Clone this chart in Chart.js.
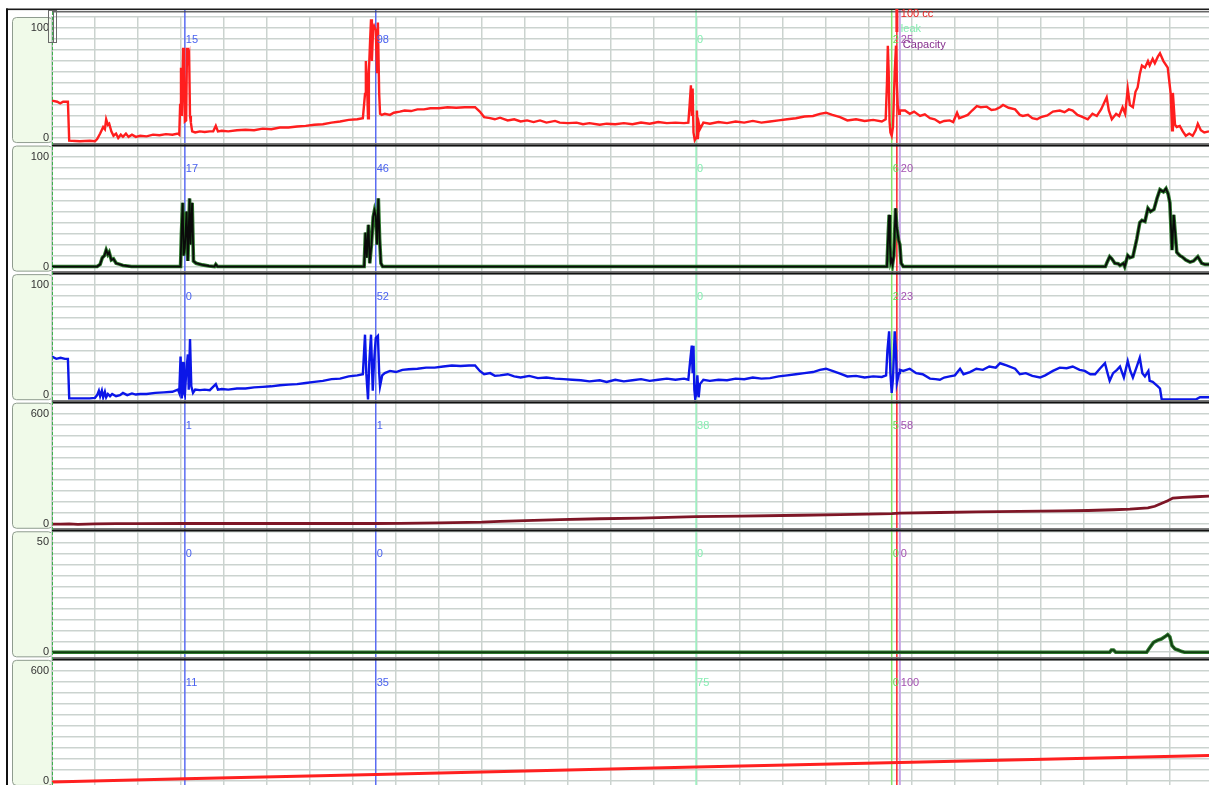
<!DOCTYPE html>
<html>
<head>
<meta charset="utf-8">
<title>Urodynamic trace</title>
<script src="https://cdn.jsdelivr.net/npm/chart.js@4.4.1/dist/chart.umd.min.js"></script>
<style>
  html, body { margin: 0; padding: 0; background: #fff; overflow: hidden; }
  #trace { display: block; }
</style>
</head>
<body>
<canvas id="trace" width="1209" height="797"></canvas>
<script>
// time in seconds (one grid column = 10 s), value per channel
const pves = [[0,34],[1.2,33],[1.9,31.5],[2.6,33],[3.7,33],[4.0,-2.5],[6.5,-3],[8.8,-2.5],[10.0,-3],[10.5,-1],[11.2,4],[11.9,10],[12.3,8],[12.6,17],[13.0,12],[13.3,13],[13.8,6],[14.3,2],[14.9,4],[15.4,0],[16.0,3],[16.5,1],[17.2,4],[17.8,1],[18.6,3],[19.5,1],[20.5,2],[22,1.5],[23.5,3],[25,2.5],[26.5,3.5],[28,3],[29.3,4],[29.6,3],[29.8,30],[30.0,64],[30.2,20],[30.5,82],[30.7,60],[30.9,15],[31.2,16],[31.4,82],[31.6,70],[31.9,75],[32.1,20],[32.3,14],[32.6,6],[33.3,5],[34.4,6],[35.5,5.5],[36.7,6],[37.5,6],[38.1,11],[38.6,6],[39.5,6.5],[41,6],[43,7],[45,7.5],[47,7],[49,8.5],[51,8],[53,9.5],[55,9.5],[57,10.5],[59,11],[61,12],[63,12.5],[65,14],[67,15],[69,16.5],[71,17],[72.3,18],[72.8,40],[73.0,70],[73.3,45],[73.5,18],[73.7,60],[74.0,90],[74.2,108],[74.4,70],[74.7,100],[74.9,102],[75.3,98],[75.6,60],[75.8,105],[76.1,40],[76.3,22],[76.7,21],[77.4,22],[78.6,21],[79.5,23],[80.9,24],[82,25],[83.5,24.5],[85,26],[86.5,26],[88,27],[90,27],[92,28],[94,27.5],[96,28],[98.4,28],[99.5,24],[100.5,19],[101.9,18],[103,17],[104.2,18.5],[106,16],[107.5,17],[109,15],[110.5,16],[112,14.5],[113.5,16],[115,14],[117,15.5],[118.1,14],[120,13.5],[122,14],[123.5,12.5],[125,13.5],[127.4,12],[129,13],[131,12.5],[133,13.5],[135,12.5],[137,14],[139,13],[141,14.5],[143,13.5],[145,14],[147,13.5],[148.0,14],[148.3,30],[148.6,48],[148.8,20],[149.0,45],[149.2,5],[149.5,-2],[149.8,0],[150.0,25],[150.2,-1],[150.5,12],[150.7,8],[151.5,14],[153,13],[155,14.5],[157,13.5],[159,15],[161,14],[163,15.5],[165,14],[167,15],[169,16],[171,17],[173,18],[175,19.5],[177,20],[178.6,22],[180,23],[181.5,21],[183.3,19],[185,16],[187,17],[189,15.5],[191,16.5],[193,15],[193.9,17],[194.2,50],[194.4,84],[194.6,60],[194.8,15],[195.0,5],[195.3,2],[195.6,10],[196.0,60],[196.3,84],[196.5,50],[196.7,30],[197.0,22],[197.2,25],[198.4,25],[199.5,22],[200.5,24],[201.9,20],[203,21.5],[204.2,18],[205.3,17],[206.5,14],[207.5,15.5],[208.8,16],[209.6,14.5],[210.5,23],[211,18],[212,19.5],[213,21],[214,25],[215.1,29],[216,28],[217.4,28.5],[218.5,25.5],[219.5,26],[220.5,28],[221.2,30],[222.5,27.5],[224,26],[225.1,21],[225.8,20],[227,21],[228,18],[229.1,17],[230,19],[231.5,20.5],[232.8,24],[234.4,25],[235.5,23.5],[236.5,26],[237.4,25],[238.5,21],[239.5,19.5],[240.9,17],[242,22],[243,20],[244,26],[245.3,37],[245.8,25],[246.5,17],[247.5,22],[248.2,20],[249,28],[249.6,22],[250.2,45],[250.7,30],[251.4,28],[252,42],[252.5,46],[253.0,58],[253.5,66],[254.2,64],[254.9,70],[255.3,66],[256,72],[256.5,68],[257.2,74],[257.7,77],[258.5,70],[259.5,64],[260.2,40],[260.5,7],[260.7,41],[261.2,12],[261.6,10],[262.3,11],[263,6],[263.7,2],[264.5,4],[265.3,2],[266,7],[266.5,13],[267.2,7],[268,5],[269.1,6]];

const pabd = [[0,0],[10.5,0],[11.2,2],[11.7,8],[12.2,10],[12.6,15],[13.0,11],[13.3,13],[13.8,6],[14.3,7],[14.9,3],[15.8,2],[16.5,1],[17.5,0.5],[18.5,0],[29.9,0],[30.1,30],[30.4,58],[30.6,10],[30.9,17],[31.3,50],[31.6,5],[32.0,62],[32.2,20],[32.6,58],[32.9,5],[33.5,3],[35,1.5],[36.5,0.5],[37.8,0],[38.1,2],[38.5,0],[72.6,0],[72.9,31],[73.2,8],[73.6,38],[73.9,3],[74.3,20],[74.7,45],[75.0,51],[75.3,46],[75.6,20],[75.9,62],[76.2,25],[76.5,3],[76.9,0],[194.2,0],[194.5,30],[194.7,47],[194.9,20],[195.1,4],[195.3,6],[195.5,2],[195.8,10],[196.2,53],[196.5,35],[196.9,24],[197.2,20],[197.5,3],[198.0,0],[245,0],[245.3,3],[246.0,9],[246.5,7],[247.2,3],[248,2.5],[248.4,1],[249.2,3],[249.5,0],[250.2,10],[250.7,8],[251.4,9],[252.3,25],[253.0,40],[253.5,42],[254.2,41],[254.9,53],[255.5,50],[256.3,52],[257.0,62],[257.7,70],[258.5,68],[259.1,71],[259.6,66],[260.0,58],[260.5,15],[260.9,47],[261.6,13],[262.3,10],[262.8,9],[263.7,6],[264.7,4],[265.5,5],[266.5,9],[267.4,3],[268.2,2],[269.1,2]];

const pdet = [[0,35],[1.0,33],[2.0,34],[3.0,33],[3.7,33],[4.0,-3],[6.5,-3],[8.8,-3],[10.0,-2.5],[10.5,0],[10.9,4],[11.2,-1],[11.6,4],[11.9,-2],[12.3,3],[12.6,-2],[13.0,1],[13.5,-1],[14.0,1],[14.9,-1],[15.8,0],[16.5,2],[17.5,0],[18.6,1.5],[19.5,0.5],[20.5,1],[22,1],[24,2],[26,2.5],[28,3],[29.3,5],[29.6,2],[29.9,35],[30.2,-3],[30.5,30],[30.7,2],[30.9,0],[31.2,20],[31.6,37],[31.8,5],[32.1,51],[32.4,8],[32.8,2],[33.3,5],[34.4,4.5],[35.5,5],[36.7,4.5],[38.1,10],[38.6,5],[39.5,5.5],[41,5],[43,6],[45,6],[47,7],[49,7.5],[51,8],[53,9],[55,9.5],[57,10],[59,11],[61,12],[63,13],[65,14.5],[67,15],[69,17],[71,18],[72.3,19],[72.8,55],[73.1,20],[73.5,-4],[73.8,30],[74.2,55],[74.6,4],[74.9,30],[75.3,52],[75.8,54],[76.1,20],[76.3,8],[76.8,18],[77.4,20],[78.6,22],[80,21],[81.5,23],[83,23.5],[85,24],[87,25],[89,25],[91,26],[93,27],[95,26.5],[97,27],[98.4,27],[99.5,22],[100.5,19],[101.9,20],[103,17.5],[104.2,18],[106,19],[107.5,17],[109,16],[111,17.5],[113,15.5],[115,16],[117,15],[119,14.5],[121,14],[123,13.5],[125,12.5],[127.4,13.5],[129,12],[131,14],[133,12.5],[135,13.5],[137,14.5],[139,13],[141,14],[143,15],[145,14],[147,15],[148.0,14],[148.4,30],[148.8,45],[149.0,20],[149.2,45],[149.4,5],[149.6,-3],[149.8,0],[150.1,18],[150.4,-2],[150.7,10],[151.5,14],[153,13],[155,14],[157,13.5],[159,15],[161,14.5],[163,16],[165,15],[167,15.5],[169,17],[171,18],[173,19],[175,20],[177,21],[178.6,23],[180,24],[181.5,22],[183.3,19.5],[185,17],[187,17.5],[189,16],[191,17],[193,16.5],[194.0,18],[194.3,40],[194.7,58],[195.0,20],[195.3,2],[195.6,15],[196.0,58],[196.3,40],[196.5,11],[197.0,20],[197.2,23],[198.0,22],[199.5,24],[201,20],[202.5,19],[204.2,15],[205.5,14.5],[206.5,14],[207.5,16],[208.8,17],[210,18],[211.2,24],[212,19],[213.5,21],[215,24],[216.5,23],[218,26],[219.5,25],[220.5,29],[222,27],[224,24],[225.1,19],[226.5,20],[228,17.5],[229.8,16],[231,18],[232.8,22],[234.4,25],[236,24.5],[237.4,26],[239,23],[240.2,22],[241.5,19],[242.6,19],[243.7,24],[244.9,29],[245.5,20],[246.0,13],[246.8,20],[247.7,23],[248.4,26],[249.3,16],[250.2,31],[250.8,22],[251.4,16],[252.3,26],[253.0,34],[253.6,20],[254.2,17],[255.0,22],[255.3,13],[256.0,12],[257.2,8],[257.7,6],[258.1,-4],[260,-4],[262,-4],[264,-4],[266,-4],[267.0,-2],[269.1,-2]];

const voided = [[0,-2],[2,-3],[4,-1],[6,-3.5],[8,-2],[10,-1],[15,0],[20,0],[30.9,1],[40,1],[50,1],[60,1],[75.3,1],[80.9,2],[90,4],[100,8],[104.2,12],[110,17],[118.1,22],[127.4,27],[136.7,30],[149.8,38],[160,41],[174,46],[183.3,49],[192.6,53],[195.3,55],[197.2,58],[206.5,61],[215,64],[225,67],[235,70],[241,72],[247,76],[250.7,79],[254.9,86],[256.5,95],[258,110],[259.5,125],[260.7,140],[263,144],[266,147],[269.1,150]];

const flow = [[0,0],[246.0,0],[246.4,1],[246.9,1],[247.4,0],[254.6,0],[255.3,2],[256.2,4.5],[257.2,5.5],[258.0,6],[258.8,7],[259.5,8],[260.0,7],[260.5,3],[261.2,1.5],[261.9,1],[262.8,0.3],[263.4,0],[269.1,0]];

const infused = [[0,-6],[30.9,11],[75.3,35],[149.8,75],[197.2,100],[269.1,138]];

// axis top value per channel, cursor times and the readings printed beside them
const axisTops = [100, 100, 100, 600, 50, 600];
const cursorTimes = [30.9, 75.3, 149.8, 195.3, 197.2];
const cursorLabels = [
  ['15', '17', '0', '1', '0', '11'],
  ['98', '46', '52', '1', '0', '35'],
  ['0', '0', '0', '38', '0', '75'],
  ['2', '6', '2', '5', '0', '0'],
  ['25', '20', '23', '58', '0', '100']
];
const fillMarkTime = 196.5;
const eventNotes = ['100 cc', 'leak', 'Capacity'];

const panelIds = ['y1', 'y2', 'y3', 'y4', 'y5', 'y6'];
const cursorLine = ['#5a6cf2', '#5a6cf2', '#98f2bf', '#86e46a', '#c6a6e6'];
const cursorText = ['#4a62f0', '#4a62f0', '#86eeb2', '#6ad85a', '#a452b2'];
const labelFont = '11px "Liberation Sans", Arial, sans-serif';
const gridColor = '#cbd3cf';

function yAxis(i) {
  const top = axisTops[i];
  const step = top / 10;
  return {
    type: 'linear',
    position: 'left',
    stack: 'channels',
    stackWeight: 1,
    weight: 6 - i,
    min: -0.06 * top,
    max: 1.11 * top,
    afterFit(s) { s.width = 40; },
    // one grid row per tenth of the full scale, 0 .. 110 %
    afterBuildTicks(s) {
      s.ticks = [];
      for (let k = 0; k <= 11; k++) s.ticks.push({ value: k * step });
    },
    border: { display: false },
    grid: { color: gridColor, lineWidth: 1.5, drawTicks: false },
    ticks: {
      autoSkip: false,
      padding: 3,
      color: '#333',
      font: { family: 'Liberation Sans', size: 11 },
      callback: v => (v === 0 || v === top) ? String(v) : ''
    }
  };
}

function trace(points, axis, color, width) {
  return {
    data: points.map(p => ({ x: p[0], y: p[1] })),
    yAxisID: axis,
    borderColor: color,
    borderWidth: width,
    pointRadius: 0,
    tension: 0,
    fill: false
  };
}

function vline(ctx, x, y0, y1, color, w) {
  ctx.strokeStyle = color;
  ctx.lineWidth = w;
  ctx.beginPath();
  ctx.moveTo(x, y0);
  ctx.lineTo(x, y1);
  ctx.stroke();
}

const panelDecor = {
  id: 'panelDecor',
  beforeDraw(chart) {
    const ctx = chart.ctx;
    ctx.save();
    ctx.fillStyle = '#fff';
    ctx.fillRect(0, 0, chart.width, chart.height);
    // rounded label boxes on the left of every channel
    panelIds.forEach(id => {
      const s = chart.scales[id];
      ctx.beginPath();
      ctx.roundRect(s.left + 0.5, s.top + 1.5, s.right - s.left, s.bottom - s.top - 3.5, 4);
      ctx.fillStyle = '#f0fae9';
      ctx.fill();
      ctx.strokeStyle = '#8f9c8f';
      ctx.lineWidth = 1;
      ctx.stroke();
    });
    ctx.restore();
  },
  beforeDatasetsDraw(chart) {
    const ctx = chart.ctx;
    const xs = chart.scales.x;
    const bottom = chart.chartArea.bottom;
    ctx.save();
    cursorTimes.forEach((t, i) => {
      vline(ctx, xs.getPixelForValue(t), 10, bottom, cursorLine[i], i === 4 ? 2 : 1.5);
    });
    vline(ctx, xs.getPixelForValue(fillMarkTime), 10, bottom, '#ff2424', 1.5);
    ctx.restore();
  },
  afterDraw(chart) {
    const ctx = chart.ctx;
    const area = chart.chartArea;
    const xs = chart.scales.x;
    ctx.save();
    // dividers between channels
    panelIds.slice(1).forEach(id => {
      const y = Math.round(chart.scales[id].top);
      ctx.fillStyle = '#7a7a7a';
      ctx.fillRect(area.left, y - 2, area.right - area.left, 1.5);
      ctx.fillStyle = '#111';
      ctx.fillRect(area.left, y - 0.5, area.right - area.left, 2);
    });
    // outer frame
    ctx.fillStyle = '#1a1a1a';
    ctx.fillRect(6, 8.5, chart.width - 6, 1.6);
    ctx.fillStyle = '#444';
    ctx.fillRect(area.left, 11.2, area.right - area.left, 1.2);
    ctx.fillStyle = '#111';
    ctx.fillRect(6, 8.5, 2, chart.height);
    // dashed time origin
    ctx.setLineDash([3, 2]);
    vline(ctx, area.left + 0.5, 12, area.bottom, '#3cb44a', 1);
    ctx.setLineDash([]);
    // scroll handle
    ctx.strokeStyle = '#6a6a6a';
    ctx.lineWidth = 1;
    ctx.strokeRect(48.5, 10.5, 8, 32);
    vline(ctx, 53.5, 10.5, 42.5, '#6a6a6a', 1);
    // fill marker flag
    const fx = xs.getPixelForValue(fillMarkTime);
    ctx.fillStyle = '#ff2424';
    ctx.fillRect(fx - 1.5, 9, 3, 23);
    // cursor readings
    ctx.font = labelFont;
    ctx.textBaseline = 'middle';
    ctx.textAlign = 'left';
    cursorTimes.forEach((t, i) => {
      const px = xs.getPixelForValue(t);
      ctx.fillStyle = cursorText[i];
      panelIds.forEach((id, p) => {
        ctx.fillText(cursorLabels[i][p], px + 1, chart.scales[id].top + 24);
      });
    });
    // event notes next to the fill marker
    ctx.fillStyle = '#e82020';
    ctx.fillText(eventNotes[0], fx + 4, 14);
    ctx.fillStyle = '#86eeb2';
    ctx.fillText(eventNotes[1], fx + 4, 29);
    ctx.fillStyle = '#86308e';
    ctx.fillText(eventNotes[2], xs.getPixelForValue(cursorTimes[4]) + 3, 45);
    ctx.restore();
  }
};

const scales = {
  x: {
    type: 'linear',
    min: 0,
    max: 269.1,
    afterFit(s) { s.height = 0; },
    afterBuildTicks(s) {
      s.ticks = [];
      for (let t = 0; t <= 260; t += 10) s.ticks.push({ value: t });
    },
    border: { display: false },
    grid: { color: gridColor, lineWidth: 1.5, drawTicks: false },
    ticks: { display: false }
  }
};
panelIds.forEach((id, i) => { scales[id] = yAxis(i); });

new Chart(document.getElementById('trace'), {
  type: 'line',
  data: {
    datasets: [
      trace(pves, 'y1', '#ff1e1e', 2.4),
      trace(pabd, 'y2', '#0a0a0a', 1.8),
      trace(pabd, 'y2', '#2f7a2f', 3.6),
      trace(pdet, 'y3', '#0b16e8', 2.4),
      trace(voided, 'y4', '#7e1626', 2.8),
      trace(flow, 'y5', '#123c12', 1.6),
      trace(flow, 'y5', '#2f7a2f', 3.6),
      trace(infused, 'y6', '#ff2020', 3)
    ]
  },
  options: {
    responsive: false,
    animation: false,
    layout: { padding: { left: 12, top: 16, right: 0, bottom: 8 } },
    plugins: { legend: { display: false }, tooltip: { enabled: false } },
    scales: scales
  },
  plugins: [panelDecor]
});
</script>
</body>
</html>
